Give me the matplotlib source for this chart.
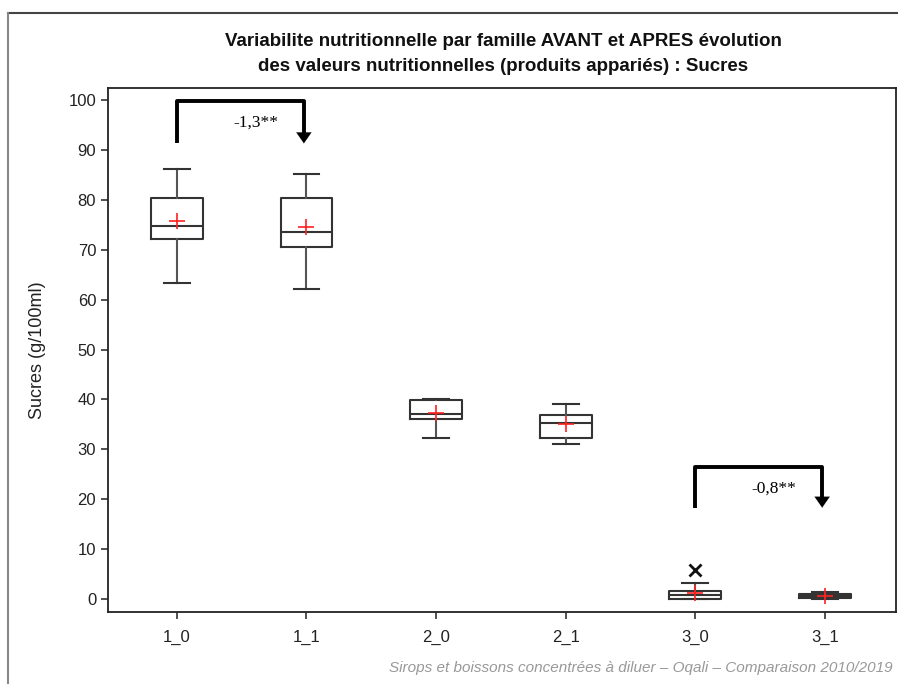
import matplotlib.pyplot as plt
import matplotlib.lines as mlines

# box statistics (g/100ml)
groups = ["1_0", "1_1", "2_0", "2_1", "3_0", "3_1"]
whis_low = [63.3, 62.1, 32.3, 31.1, 0.0, 0.0]
q1 = [72.1, 70.6, 36.0, 32.3, 0.1, 0.15]
median = [74.7, 73.5, 37.0, 35.2, 0.9, 0.6]
q3 = [80.3, 80.3, 39.9, 36.9, 1.6, 1.1]
whis_high = [86.2, 85.1, 40.1, 39.0, 3.3, 1.4]
means = [75.8, 74.6, 37.2, 35.0, 1.3, 0.6]
outliers = [[], [], [], [], [5.8], []]

# comparisons (from, to, label, base, top)
comparisons = [(0, 1, "-1,3**", 91.3, 99.7), (4, 5, "-0,8**", 18.3, 26.5)]

plt.rcParams["font.family"] = ["Liberation Sans", "DejaVu Sans"]

fig = plt.figure(figsize=(8.98, 6.84), dpi=100)
ax = fig.add_axes([108 / 898, 1 - 612 / 684, 788 / 898, 524 / 684])

stats = []
for i, g in enumerate(groups):
    stats.append(dict(label=g, whislo=whis_low[i], q1=q1[i], med=median[i],
                      q3=q3[i], whishi=whis_high[i], mean=means[i],
                      fliers=outliers[i]))

pos = list(range(1, len(groups) + 1))
ax.bxp(stats, positions=pos, widths=0.40, showmeans=True,
       boxprops=dict(color="#333333", linewidth=1.5),
       medianprops=dict(color="#333333", linewidth=1.5),
       whiskerprops=dict(color="#555555", linewidth=1.5),
       capprops=dict(color="#333333", linewidth=1.5),
       meanprops=dict(marker="+", markeredgecolor="#ff2020", markersize=11,
                      markeredgewidth=1.2),
       flierprops=dict(marker="x", markeredgecolor="#111111", markersize=8,
                       markeredgewidth=2))

for a, b, label, base, top in comparisons:
    xa, xb = pos[a], pos[b] - 0.02
    ax.plot([xa, xa, xb, xb], [base, top, top, base + 1.2], color="black",
            linewidth=2.8, solid_joinstyle="round", solid_capstyle="butt")
    ax.annotate("", xy=(xb, base), xytext=(xb, base + 2.3),
                arrowprops=dict(arrowstyle="-|>,head_length=0.56,head_width=0.39",
                                mutation_scale=14, color="black", linewidth=0.1,
                                shrinkA=0, shrinkB=0))
    ax.text(xb - 0.37, top - 4.3, label, ha="center", va="center",
            fontsize=12.5, family=["Liberation Serif", "DejaVu Serif"])

ax.set_xlim(0.468, 6.55)
ax.set_ylim(-2.6, 102.4)
ax.set_yticks(range(0, 101, 10))
ax.set_xticks(pos)
ax.set_xticklabels(groups)
ax.tick_params(labelsize=12, labelcolor="#222222", length=5, width=1.2,
               color="#333333")
ax.tick_params(axis="x", pad=8)
for s in ax.spines.values():
    s.set_linewidth(1.3)
    s.set_color("#222222")
ax.set_ylabel("Sucres (g/100ml)", fontsize=13, color="#222222", labelpad=16)

fig.text(503 / 898, 1 - 54 / 684,
         "Variabilite nutritionnelle par famille AVANT et APRES évolution\n"
         "des valeurs nutritionnelles (produits appariés) : Sucres",
         ha="center", va="center", fontsize=13.5, fontweight="bold",
         linespacing=1.55, color="#111111")

fig.text(893 / 898, 1 - 668 / 684,
         "Sirops et boissons concentrées à diluer – Oqali – Comparaison 2010/2019",
         ha="right", va="center", fontsize=11, style="italic", color="#999999")

# outer frame lines (top and left)
fig.add_artist(mlines.Line2D([8 / 898, 1], [1 - 13 / 684] * 2,
                             color="#444444", linewidth=1.5))
fig.add_artist(mlines.Line2D([8 / 898] * 2, [0, 1 - 13 / 684],
                             color="#888888", linewidth=1.5))

fig.savefig("out.png", dpi=100)
